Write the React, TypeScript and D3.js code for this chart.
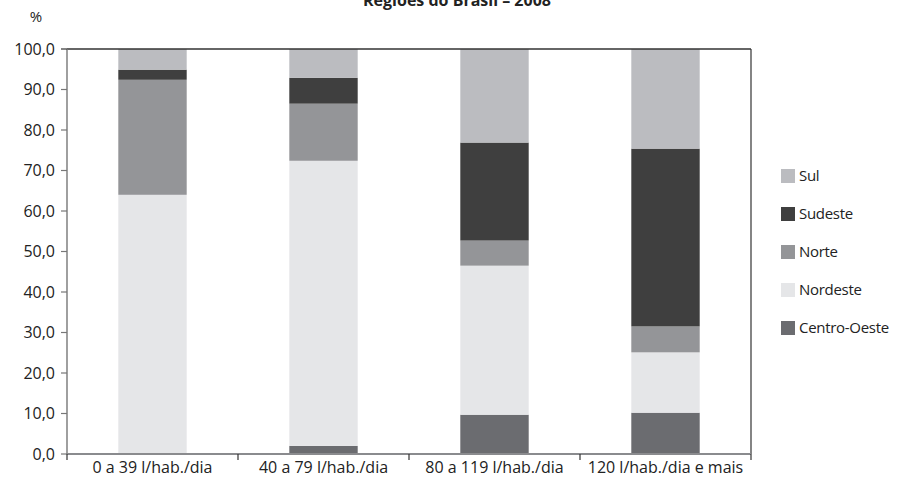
import * as d3 from "d3";

const categories = [
  "0 a 39 l/hab./dia",
  "40 a 79 l/hab./dia",
  "80 a 119 l/hab./dia",
  "120 l/hab./dia e mais",
];
const seriesNames = ["Centro-Oeste", "Nordeste", "Norte", "Sudeste", "Sul"];
const centroOeste = [0, 2.0, 9.7, 10.2];
const nordeste = [64.0, 70.4, 36.8, 14.9];
const norte = [28.4, 14.1, 6.2, 6.4];
const sudeste = [2.5, 6.4, 24.2, 43.9];
const sul = [5.1, 7.1, 23.1, 24.6];
const yTicks = [0, 10, 20, 30, 40, 50, 60, 70, 80, 90, 100];
const legendOrder = ["Sul", "Sudeste", "Norte", "Nordeste", "Centro-Oeste"];

const colors: Record<string, string> = {
  "Centro-Oeste": "#6b6c70",
  Nordeste: "#e5e6e8",
  Norte: "#949598",
  Sudeste: "#3f3f3f",
  Sul: "#bbbcc0",
};

const width = 898;
const height = 478;
const left = 67;
const right = 751;
const top = 49;
const bottom = 454;
const font = "'Open Sans', 'Noto Sans', sans-serif";

export default function App() {
  const rows = categories.map((c, i) => ({
    cat: c,
    "Centro-Oeste": centroOeste[i],
    Nordeste: nordeste[i],
    Norte: norte[i],
    Sudeste: sudeste[i],
    Sul: sul[i],
  }));

  const x = d3.scaleBand().domain(categories).range([left, right]).paddingInner(0.6).paddingOuter(0.3);
  const xb = d3.scaleBand().domain(categories).range([left, right]);
  const y = d3.scaleLinear().domain([0, 100]).range([bottom, top]);
  const stacked = d3.stack<any>().keys(seriesNames)(rows);
  const fmt = (v: number) => v.toFixed(1).replace(".", ",");

  return (
    <svg
      width={width}
      height={height}
      style={{ position: "absolute", left: 0, top: 0, fontFamily: font }}
    >
      <text x={457} y={6} textAnchor="middle" fontSize={16} fontWeight="bold" fill="#222">
        Regiões do Brasil – 2008
      </text>
      <text x={36} y={22} textAnchor="middle" fontSize={15} fill="#222">
        %
      </text>

      {stacked.map((s) => (
        <g key={s.key} fill={colors[s.key]}>
          {s.map((d, i) => (
            <rect
              key={i}
              x={x(categories[i])}
              width={x.bandwidth()}
              y={y(d[1])}
              height={Math.max(0, y(d[0]) - y(d[1]))}
            />
          ))}
        </g>
      ))}

      {/* frame */}
      <line x1={left} x2={right} y1={top} y2={top} stroke="#333" strokeWidth={1.5} />
      <line x1={right} x2={right} y1={top} y2={bottom} stroke="#333" strokeWidth={1.2} />
      <line x1={left} x2={left} y1={top} y2={bottom} stroke="#777" strokeWidth={1.4} />

      {yTicks.map((t) => (
        <g key={t}>
          <line x1={left - 6} x2={left} y1={y(t)} y2={y(t)} stroke={t === 100 ? "#333" : "#777"} strokeWidth={1.2} />
          <text x={55} y={y(t)} dy="0.35em" textAnchor="end" fontSize={16} fill="#222">
            {fmt(t)}
          </text>
        </g>
      ))}

      <line x1={left} x2={right} y1={bottom} y2={bottom} stroke="#8a8b8e" strokeWidth={2} />
      {categories.map((c, i) => (
        <line
          key={"t" + i}
          x1={xb(c)}
          x2={xb(c)}
          y1={bottom}
          y2={bottom + 6}
          stroke="#333"
          strokeWidth={1.2}
        />
      ))}
      <line x1={right} x2={right} y1={bottom} y2={bottom + 6} stroke="#333" strokeWidth={1.2} />
      {categories.map((c) => (
        <text
          key={c}
          x={(xb(c) as number) + xb.bandwidth() / 2}
          y={473}
          textAnchor="middle"
          fontSize={16}
          fill="#222"
        >
          {c}
        </text>
      ))}

      {legendOrder.map((k, i) => (
        <g key={k} transform={`translate(781, ${169 + i * 38})`}>
          <rect width={14} height={14} fill={colors[k]} />
          <text x={18} y={7} dy="0.35em" fontSize={15} letterSpacing={-0.3} fill="#222">
            {k}
          </text>
        </g>
      ))}
    </svg>
  );
}
